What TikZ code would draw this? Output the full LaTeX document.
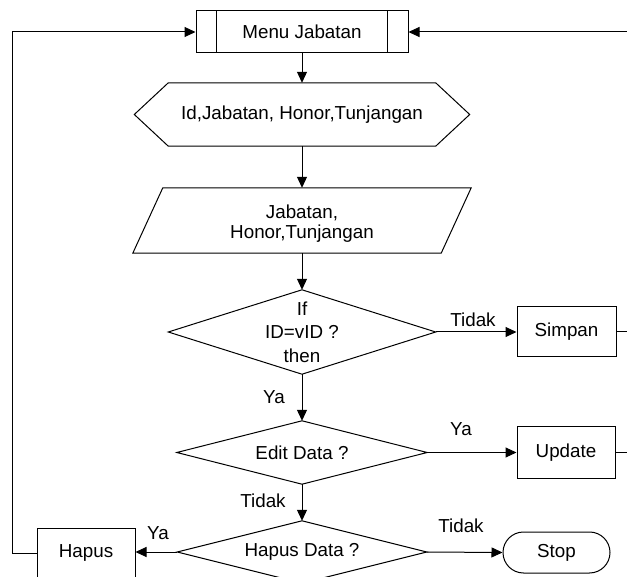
\documentclass[tikz,border=0pt]{standalone}
\usepackage{fontspec}
\setmainfont{Liberation Sans}
\usetikzlibrary{arrows.meta}
\begin{document}
\begin{tikzpicture}[x=1pt,y=-1pt,
  every node/.style={inner sep=0pt, font=\fontsize{18.8}{23.5}\selectfont},
  outline/.style={draw=black, line width=1pt, line join=miter},
  stepbox/.style={draw=black, line width=1pt},
  flow/.style={draw=black, line width=1pt},
  arr/.style={flow, -{Triangle[length=11pt,width=10pt]}}]

\useasboundingbox (0,0) rectangle (627,577);
\clip (0,0) rectangle (627,577);

% predefined process: menu
\node[stepbox, minimum width=212pt, minimum height=42pt] (menu) at (302,32) {Menu Jabatan};
\draw[outline] ([xshift=21pt]menu.north west) -- ([xshift=21pt]menu.south west)
               ([xshift=-21pt]menu.north east) -- ([xshift=-21pt]menu.south east);

% preparation (hexagon)
\node[minimum width=335pt, minimum height=63pt] (hex) at (302,114.5) {Id,Jabatan, Honor,Tunjangan};
\draw[outline] (hex.west) -- ([xshift=34pt]hex.north west) -- ([xshift=-34pt]hex.north east)
  -- (hex.east) -- ([xshift=-34pt]hex.south east) -- ([xshift=34pt]hex.south west) -- cycle;

% input (parallelogram) with its two-line text
\node[minimum width=338pt, minimum height=65pt] (data) at (302,220.5) {};
\draw[outline] ([xshift=30pt]data.north west) -- (data.north east)
  -- ([xshift=-30pt]data.south east) -- (data.south west) -- cycle;
\node[align=center, font=\fontsize{18.8}{20}\selectfont] (datatext) at (302,223.5) {Jabatan,\\Honor,Tunjangan};

% decisions
\node[minimum width=267pt, minimum height=84pt, align=center] (cek) at (302,332) {If\\ID=vID ?\\then};
\draw[outline] (cek.north) -- (cek.east) -- (cek.south) -- (cek.west) -- cycle;

\node[minimum width=250pt, minimum height=63pt] (edit) at (302,452.5) {Edit Data ?};
\draw[outline] (edit.north) -- (edit.east) -- (edit.south) -- (edit.west) -- cycle;

\node[minimum width=249pt, minimum height=62pt] (hapusq) at (302,552) {Hapus Data ?};
\draw[outline] (hapusq.north) -- (hapusq.east) -- (hapusq.south) -- (hapusq.west) -- cycle;

% processes
\node[stepbox, minimum width=99pt, minimum height=50pt] (simpan) at (566.5,332) {Simpan};
\node[stepbox, minimum width=98pt, minimum height=51pt] (update) at (566,452.5) {Update};
\node[stepbox, minimum width=98pt, minimum height=50pt] (hapus) at (86,553) {Hapus};

% terminator
\node[stepbox, rounded corners=20.5pt, minimum width=107pt, minimum height=41pt] (stop) at (556.5,552.5) {Stop};

% main flow
\draw[arr] (menu.south) -- (hex.north);
\draw[arr] (hex.south) -- (data.north);
\draw[arr] (data.south) -- (cek.north);
\draw[arr] (cek.east) -- (simpan.west);
\draw[arr] (cek.south) -- (edit.north);
\draw[arr] (edit.east) -- (update.west);
\draw[arr] (edit.south) -- (hapusq.north);
\draw[arr] (hapusq.west) -- (hapusq.west -| hapus.east);
\draw[arr] (hapusq.east) -- (stop.west);

% return paths to the menu
\coordinate (lbus) at (12,32);
\coordinate (rbus) at (645,32);
\draw[arr] (hapus.west) -| (lbus) -- (menu.west);
\draw[flow] (simpan.east) -| (rbus);
\draw[flow] (update.east) -| (rbus);
\draw[arr] (rbus) -- (menu.east);

% branch labels
\node (t1) at (473,320) {Tidak};
\node (y1) at (274,397) {Ya};
\node (y2) at (461,429) {Ya};
\node (t2) at (263,501) {Tidak};
\node (y3) at (158,533) {Ya};
\node (t3) at (461,526) {Tidak};
\end{tikzpicture}
\end{document}
